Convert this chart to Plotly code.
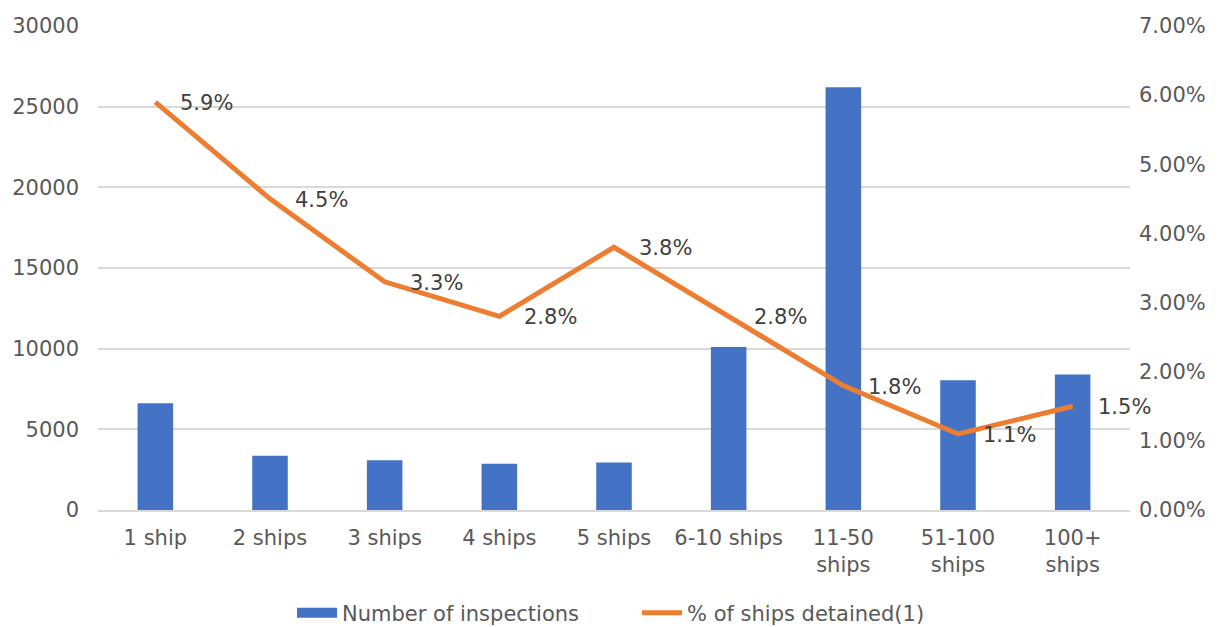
import plotly.graph_objects as go

# categories and values
categories = ["1 ship", "2 ships", "3 ships", "4 ships", "5 ships",
              "6-10 ships", "11-50<br>ships", "51-100<br>ships", "100+<br>ships"]
inspections = [6620, 3360, 3080, 2860, 2940, 10100, 26200, 8050, 8400]
detained_pct = [0.059, 0.045, 0.033, 0.028, 0.038, 0.028, 0.018, 0.011, 0.015]

FONT = "DejaVu Sans, Verdana, sans-serif"
TXT = "#595959"
BLUE = "#4472C4"
ORANGE = "#ED7D31"

fig = go.Figure()
fig.add_trace(go.Bar(
    x=categories, y=inspections, name="Number of inspections",
    marker=dict(color=BLUE, line=dict(width=0)), showlegend=False,
))
# legend stand-in so the bar swatch is a wide block like the original
fig.add_trace(go.Scatter(
    x=[categories[0]], y=[None], name="Number of inspections", mode="lines",
    line=dict(color=BLUE, width=11),
))
fig.add_trace(go.Scatter(
    x=categories, y=detained_pct, name="% of ships detained(1)",
    mode="lines", yaxis="y2",
    line=dict(color=ORANGE, width=5),
))

# data labels to the right of each point
for c, v in zip(categories, detained_pct):
    fig.add_annotation(x=c, y=v, yref="y2", text=f"{v*100:.1f}%",
                       showarrow=False, xanchor="left", xshift=23, yshift=-1,
                       font=dict(family=FONT, size=21, color="#404040"))

fig.update_layout(
    width=1226, height=627,
    margin=dict(l=98, r=96, t=26, b=117, autoexpand=False),
    paper_bgcolor="white", plot_bgcolor="white",
    font=dict(family=FONT, size=21, color=TXT),
    bargap=0.69,
    showlegend=True,
    legend=dict(orientation="h", x=0.188, xanchor="left", y=-0.213, yanchor="middle",
                font=dict(family=FONT, size=21, color=TXT),
                entrywidth=290, itemwidth=40, tracegroupgap=0),
    xaxis=dict(range=[-0.5, len(categories) - 0.5],
               showgrid=False, showline=True, linecolor="#D9D9D9", linewidth=1.5,
               ticks="", ticklabelstandoff=8, automargin=False,
               tickfont=dict(size=21, color=TXT)),
    yaxis=dict(range=[0, 30000], dtick=5000, tickformat="d",
               showgrid=True, gridcolor="#D9D9D9", gridwidth=1.5,
               zeroline=False, showline=False, ticks="", automargin=False,
               ticklabelstandoff=18, tickfont=dict(size=21, color=TXT)),
    yaxis2=dict(range=[0, 0.07], dtick=0.01, tickformat=".2%",
                overlaying="y", side="right", showgrid=False, zeroline=False,
                showline=False, ticks="", ticklabelstandoff=8, automargin=False,
                tickfont=dict(size=21, color=TXT)),
)

# drop the page's default body margin so the figure fills the window exactly
fig.write_html("out.html", config={"displayModeBar": False},
               post_script="document.body.style.margin='0';")
